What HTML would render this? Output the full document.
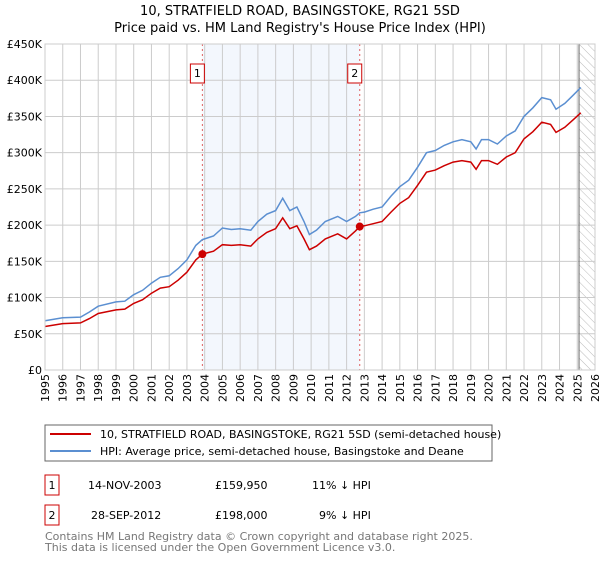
<!DOCTYPE html>
<html><head><meta charset="utf-8"><style>
body{margin:0;background:#fff;font-family:"DejaVu Sans","Liberation Sans",sans-serif;}
svg text{font-family:"DejaVu Sans","Liberation Sans",sans-serif;}
</style></head><body>
<svg id="c" width="600" height="560" xmlns="http://www.w3.org/2000/svg">
<defs><pattern id="hatch" width="6" height="6" patternUnits="userSpaceOnUse" patternTransform="rotate(-45)"><line x1="0" y1="0" x2="0" y2="6" stroke="#bbb" stroke-width="1"/></pattern></defs>
<text x="300" y="15" text-anchor="middle" font-size="13">10, STRATFIELD ROAD, BASINGSTOKE, RG21 5SD</text>
<text x="300" y="32" text-anchor="middle" font-size="13">Price paid vs. HM Land Registry's House Price Index (HPI)</text>
<g id="plot"></g>
<rect x="45" y="425" width="447" height="36" fill="#fff" stroke="#666"/>
<line x1="50" y1="434" x2="91" y2="434" stroke="#cc0000" stroke-width="2"/>
<text x="100" y="438" font-size="11">10, STRATFIELD ROAD, BASINGSTOKE, RG21 5SD (semi-detached house)</text>
<line x1="50" y1="451" x2="91" y2="451" stroke="#5b8fd1" stroke-width="2"/>
<text x="100" y="455" font-size="11">HPI: Average price, semi-detached house, Basingstoke and Deane</text>
<g font-size="11">
<rect x="45" y="475" width="14" height="20" fill="#fff" stroke="#cc0000"/>
<text x="52" y="489" text-anchor="middle">1</text>
<text x="88" y="489">14-NOV-2003</text><text x="215" y="489">£159,950</text><text x="312" y="489">11% ↓ HPI</text>
<rect x="45" y="505" width="14" height="20" fill="#fff" stroke="#cc0000"/>
<text x="52" y="519" text-anchor="middle">2</text>
<text x="91" y="519">28-SEP-2012</text><text x="215" y="519">£198,000</text><text x="319" y="519">9% ↓ HPI</text>
</g>
<text x="45" y="540" font-size="11" fill="#777">Contains HM Land Registry data © Crown copyright and database right 2025.</text>
<text x="45" y="551" font-size="11" fill="#777">This data is licensed under the Open Government Licence v3.0.</text>
</svg>
<script>
const yearTicks=[1995,1996,1997,1998,1999,2000,2001,2002,2003,2004,2005,2006,2007,2008,2009,2010,2011,2012,2013,2014,2015,2016,2017,2018,2019,2020,2021,2022,2023,2024,2025,2026];
const valueTicks=[0,50,100,150,200,250,300,350,400,450];
const valueLabels=["£0","£50K","£100K","£150K","£200K","£250K","£300K","£350K","£400K","£450K"];
const dates=[1995,1996,1997,1997.5,1998,1999,1999.5,2000,2000.5,2001,2001.5,2002,2002.5,2003,2003.5,2003.87,2004.5,2005,2005.5,2006,2006.6,2007,2007.5,2008,2008.4,2008.8,2009.2,2009.6,2009.9,2010.3,2010.8,2011.5,2012,2012.5,2012.74,2013,2013.5,2014,2014.5,2015,2015.5,2016,2016.5,2017,2017.5,2018,2018.5,2019,2019.3,2019.6,2020,2020.5,2021,2021.5,2022,2022.5,2023,2023.5,2023.8,2024.3,2024.8,2025.2];
const hpi=[68,72,73,80,88,94,95,104,110,120,128,130,140,152,172,180,185,196,194,195,193,205,215,220,237,220,225,205,187,193,205,212,205,212,217,218,222,225,240,253,262,280,300,303,310,315,318,315,305,318,318,312,323,330,350,362,376,373,360,368,380,390];
const price=[60,64,65,71,78,83,84,92,97,106,113,115,124,135,152,160,164,173,172,173,171,181,190,195,210,195,199,181,166,171,181,188,181,192,198,199,202,205,218,230,238,255,273,276,282,287,289,287,277,289,289,284,294,300,319,329,342,339,328,335,346,355];
const saleDates=[2003.87,2012.74];
const salePrices=[159.95,198];
const x0=45,x1=595,y0=370,y1=44;
const X=t=>x0+(t-1995)/(2026-1995)*(x1-x0);
const Y=v=>y0-v/450*(y0-y1);
const g=document.getElementById('plot');
const NS='http://www.w3.org/2000/svg';
function mk(tag,attrs,parent){const e=document.createElementNS(NS,tag);for(const k in attrs)e.setAttribute(k,attrs[k]);(parent||g).appendChild(e);return e;}
let r=mk('rect',{x:X(saleDates[0]),y:y1,width:X(saleDates[1])-X(saleDates[0]),height:y0-y1,fill:'#eef3fc',opacity:0.7});


r=mk('rect',{x:X(2025.1),y:y1,width:x1-X(2025.1),height:y0-y1,fill:'url(#hatch)'});


yearTicks.forEach(t=>{const l=mk('line',{x1:X(t),x2:X(t),y1:y1,y2:y0,stroke:'#ccc'});


const tx=mk('text',{x:X(t)+4,y:y0+4,'font-size':11,transform:`rotate(-90 ${X(t)+4} ${y0+4})`,'text-anchor':'end'});tx.textContent=t;

});
valueTicks.forEach((v,i)=>{const l=mk('line',{x1:x0,x2:x1,y1:Y(v),y2:Y(v),stroke:'#ccc'});


const tx=mk('text',{x:x0-3,y:Y(v)+4,'font-size':11,'text-anchor':'end'});tx.textContent=valueLabels[i];

});
let v=mk('line',{x1:X(2025.1),x2:X(2025.1),y1:y1,y2:y0,stroke:'#666'});


saleDates.forEach((d,i)=>{const l=mk('line',{x1:X(d),x2:X(d),y1:y1,y2:y0,stroke:'#e06060','stroke-dasharray':'2,3'});


const b=mk('rect',{x:X(d)-12,y:64,width:14,height:19,fill:'#fff',stroke:'#cc0000'});


const t=mk('text',{x:X(d)-5,y:77,'font-size':11,'text-anchor':'middle'});t.textContent=i+1;

});
const pts=a=>dates.map((d,i)=>X(d).toFixed(1)+','+Y(a[i]).toFixed(1)).join(' ');
let p=mk('polyline',{points:pts(hpi),fill:'none',stroke:'#5b8fd1','stroke-width':1.5});


p=mk('polyline',{points:pts(price),fill:'none',stroke:'#cc0000','stroke-width':1.5});


saleDates.forEach((d,i)=>{const c=mk('circle',{cx:X(d),cy:Y(salePrices[i]),r:4,fill:'#cc0000'});

});
let f=mk('rect',{x:x0,y:y1,width:x1-x0,height:y0-y1,fill:'none',stroke:'#ccc'});


</script>
</body></html>
